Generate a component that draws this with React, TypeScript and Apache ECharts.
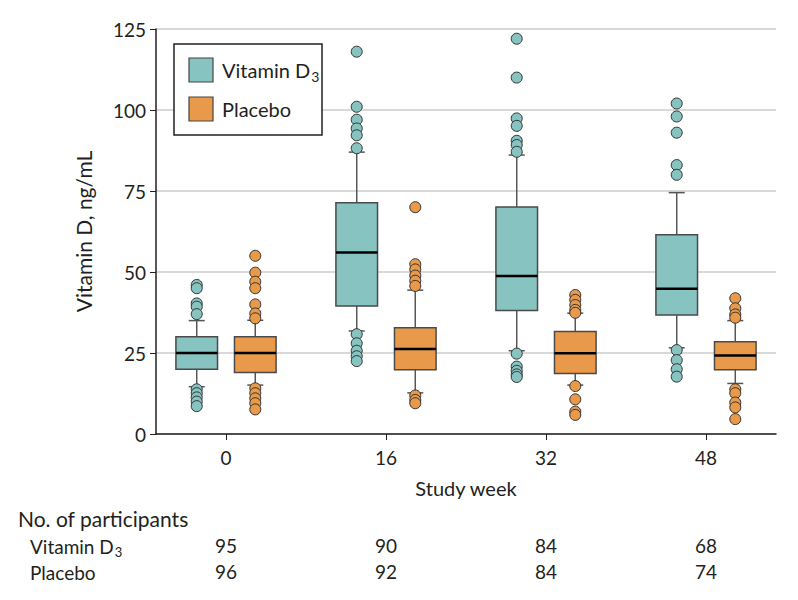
import React, { useEffect, useRef } from "react";
import * as echarts from "echarts";

const weeks = ["0", "16", "32", "48"];
// [lower whisker, Q1, median, Q3, upper whisker]
const vitaminBox = [
  [14.6, 20, 25, 30, 35],
  [31.8, 39.5, 56, 71.4, 87],
  [25.7, 38.1, 48.8, 70.1, 86.1],
  [26.6, 36.7, 44.8, 61.5, 74.5],
];
const placeboBox = [
  [15.1, 19, 25, 30, 35.1],
  [12.7, 19.8, 26.2, 32.8, 44.4],
  [15.1, 18.7, 24.9, 31.6, 37.3],
  [15.6, 19.8, 24.2, 28.5, 35],
];
const vitaminOutliers = [
  [46, 45, 40.3, 39.3, 37, 13.8, 12.6, 11.3, 10, 8.6],
  [118, 101, 97, 94.3, 92.2, 88.2, 30.8, 28, 25.7, 24, 22.5],
  [122, 110, 97.4, 95.1, 90.5, 89.2, 87.1, 24.8, 20.8, 19.5, 18.4, 17.6],
  [102, 98, 93, 83, 80, 25.9, 22.8, 20, 17.7],
];
const placeboOutliers = [
  [55, 49.8, 47, 45, 40, 37.2, 35.7, 14.1, 12.6, 11, 9.5, 7.6],
  [70, 52.4, 50.8, 48.9, 47.3, 45.7, 11.9, 10.5, 9.5],
  [42.9, 41.4, 39.8, 38.3, 37.4, 14.8, 10.7, 6.9, 5.9],
  [41.9, 38.8, 36.9, 35.9, 13.8, 12.6, 9.7, 8.2, 4.6],
];
const vitaminN = [95, 90, 84, 68];
const placeboN = [96, 92, 84, 74];

const TEAL = "#86c3c1";
const ORANGE = "#e8994a";
const INK = "#231f20";
const FONT = "Lato, 'DejaVu Sans Condensed', sans-serif";
const FS = 19;
const OFFSET = 0.183;
const XMIN = -0.4375;
const XMAX = 3.4375;
const TICKS = [0, 1, 2, 3];

function boxData(boxes: number[][], off: number) {
  return boxes.map((b, i) => [i + off, ...b]);
}
function outlierData(outs: number[][], off: number) {
  const res: number[][] = [];
  outs.forEach((arr, i) => arr.forEach((v) => res.push([i + off, v])));
  return res;
}

function renderBox(color: string) {
  return (params: any, api: any) => {
    const x = api.value(0);
    const lo = api.coord([x, api.value(1)]);
    const q1 = api.coord([x, api.value(2)]);
    const med = api.coord([x, api.value(3)]);
    const q3 = api.coord([x, api.value(4)]);
    const hi = api.coord([x, api.value(5)]);
    const w = api.size([0.26, 0])[0];
    const cw = api.size([0.1, 0])[0];
    const cx = lo[0];
    const wl = { stroke: "#555", lineWidth: 1.5 };
    return {
      type: "group",
      children: [
        { type: "line", shape: { x1: cx, y1: hi[1], x2: cx, y2: q3[1] }, style: wl },
        { type: "line", shape: { x1: cx, y1: q1[1], x2: cx, y2: lo[1] }, style: wl },
        { type: "line", shape: { x1: cx - cw / 2, y1: hi[1], x2: cx + cw / 2, y2: hi[1] }, style: wl },
        { type: "line", shape: { x1: cx - cw / 2, y1: lo[1], x2: cx + cw / 2, y2: lo[1] }, style: wl },
        {
          type: "rect",
          shape: { x: cx - w / 2, y: q3[1], width: w, height: q1[1] - q3[1] },
          style: { fill: color, stroke: "#4a4a4a", lineWidth: 1.5 },
        },
        {
          type: "line",
          shape: { x1: cx - w / 2, y1: med[1], x2: cx + w / 2, y2: med[1] },
          style: { stroke: "#000", lineWidth: 2.5 },
        },
      ],
    };
  };
}

export default function App() {
  const ref = useRef<HTMLDivElement>(null);
  useEffect(() => {
    if (!ref.current) return;
    const chart = echarts.init(ref.current, null, { renderer: "svg" });
    const countAxis = (vals: number[], offset: number) => ({
      type: "value",
      min: XMIN,
      max: XMAX,
      position: "bottom",
      offset,
      axisLine: { show: false },
      axisTick: { show: false },
      splitLine: { show: false },
      axisLabel: {
        customValues: TICKS,
        formatter: (v: number) => String(vals[Math.round(v)]),
        fontSize: FS,
        color: INK,
        margin: 0,
      },
    });
    chart.setOption({
      animation: false,
      textStyle: { fontFamily: FONT },
      grid: { left: 156, right: 22, top: 29, bottom: 166, containLabel: false },
      xAxis: [
        {
          type: "value",
          min: XMIN,
          max: XMAX,
          position: "bottom",
          axisLine: { show: true, onZero: false, lineStyle: { color: INK, width: 1.5 } },
          axisTick: { show: true, customValues: TICKS, length: 6, lineStyle: { color: INK } },
          axisLabel: {
            customValues: TICKS,
            formatter: (v: number) => weeks[Math.round(v)],
            fontSize: FS,
            color: INK,
            margin: 14,
          },
          splitLine: { show: false },
          name: "Study week",
          nameLocation: "middle",
          nameGap: 44,
          nameTextStyle: { fontSize: 20, color: INK },
        },
        countAxis(vitaminN, 102),
        countAxis(placeboN, 128),
      ],
      yAxis: {
        type: "value",
        min: 0,
        max: 125,
        interval: 25,
        axisLine: { show: true, onZero: false, lineStyle: { color: INK, width: 1.5 } },
        axisTick: { show: true, length: 6, lineStyle: { color: INK } },
        axisLabel: { fontSize: FS, color: INK, margin: 10 },
        splitLine: { show: true, lineStyle: { color: "#d9d9d9", width: 2 } },
        name: "Vitamin D, ng/mL",
        nameLocation: "middle",
        nameGap: 62,
        nameTextStyle: { fontSize: 21, color: INK },
      },
      series: [
        {
          type: "custom",
          name: "Vitamin D3",
          renderItem: renderBox(TEAL),
          data: boxData(vitaminBox, -OFFSET),
          encode: { x: 0, y: [1, 2, 3, 4, 5] },
          clip: false,
          z: 2,
        },
        {
          type: "custom",
          name: "Placebo",
          renderItem: renderBox(ORANGE),
          data: boxData(placeboBox, OFFSET),
          encode: { x: 0, y: [1, 2, 3, 4, 5] },
          clip: false,
          z: 2,
        },
        {
          type: "scatter",
          data: outlierData(vitaminOutliers, -OFFSET),
          symbolSize: 11,
          itemStyle: { color: TEAL, borderColor: "#333", borderWidth: 1, opacity: 1 },
          z: 3,
        },
        {
          type: "scatter",
          data: outlierData(placeboOutliers, OFFSET),
          symbolSize: 11,
          itemStyle: { color: ORANGE, borderColor: "#333", borderWidth: 1, opacity: 1 },
          z: 3,
        },
      ],
      graphic: [
        {
          type: "rect",
          shape: { x: 174, y: 44, width: 148, height: 91 },
          style: { fill: "#fff", stroke: "#222", lineWidth: 1.5 },
          z: 10,
        },
        {
          type: "rect",
          shape: { x: 189, y: 58, width: 24, height: 24 },
          style: { fill: TEAL, stroke: "#444", lineWidth: 1.2 },
          z: 11,
        },
        {
          type: "rect",
          shape: { x: 189, y: 97, width: 24, height: 24 },
          style: { fill: ORANGE, stroke: "#444", lineWidth: 1.2 },
          z: 11,
        },
        {
          type: "text",
          x: 222,
          y: 70,
          z: 11,
          style: {
            text: "{a|Vitamin D}{b|3}",
            verticalAlign: "middle",
            fill: INK,
            rich: {
              a: { fontSize: 20, fontFamily: FONT, fill: INK },
              b: { fontSize: 14, fontFamily: FONT, fill: INK, padding: [12, 0, 0, 1] },
            },
          },
        },
        {
          type: "text",
          x: 222,
          y: 109,
          z: 11,
          style: { text: "Placebo", fontSize: 20, fontFamily: FONT, fill: INK, verticalAlign: "middle" },
        },
        {
          type: "text",
          x: 18,
          y: 518,
          style: { text: "No. of participants", fontSize: 21, fontFamily: FONT, fill: INK, verticalAlign: "middle" },
        },
        {
          type: "text",
          x: 30,
          y: 546,
          style: {
            text: "{a|Vitamin D}{b|3}",
            verticalAlign: "middle",
            fill: INK,
            rich: {
              a: { fontSize: FS, fontFamily: FONT, fill: INK },
              b: { fontSize: 13, fontFamily: FONT, fill: INK, padding: [12, 0, 0, 1] },
            },
          },
        },
        {
          type: "text",
          x: 30,
          y: 572,
          style: { text: "Placebo", fontSize: FS, fontFamily: FONT, fill: INK, verticalAlign: "middle" },
        },
      ],
    });
    return () => chart.dispose();
  }, []);
  return <div ref={ref} style={{ position: "absolute", left: 0, top: 0, width: 798, height: 600 }} />;
}
